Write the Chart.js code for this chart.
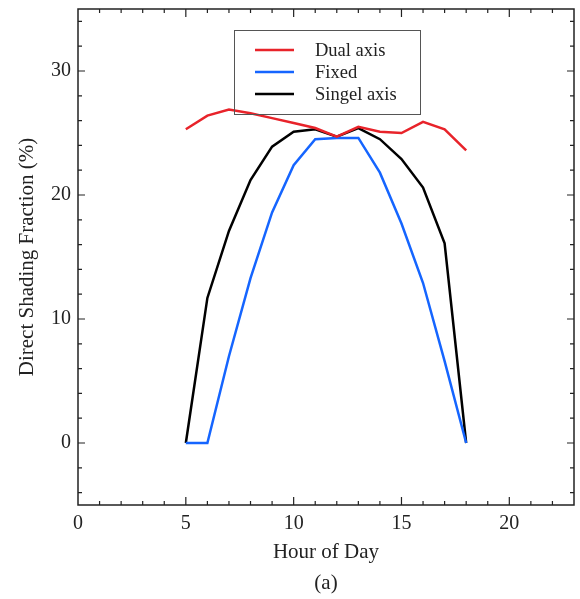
<!DOCTYPE html>
<html>
<head>
<meta charset="utf-8">
<script src="https://cdn.jsdelivr.net/npm/chart.js@4/dist/chart.umd.min.js"></script>
<style>
  body { margin: 0; background: #fff; }
  #wrap { width: 580px; height: 599px; }
</style>
</head>
<body>
<div id="wrap"><canvas id="myChart" width="580" height="599"></canvas></div>
<script>
// data
const hours = [5, 6, 7, 8, 9, 10, 11, 12, 13, 14, 15, 16, 17, 18];
const dualAxis = [25.3, 26.4, 26.9, 26.6, 26.2, 25.8, 25.4, 24.7, 25.5, 25.1, 25.0, 25.9, 25.3, 23.6];
const fixed = [0, 0, 7.0, 13.3, 18.6, 22.4, 24.5, 24.6, 24.6, 21.8, 17.7, 12.9, 6.6, 0];
const singleAxis = [0, 11.7, 17.1, 21.2, 23.9, 25.1, 25.3, 24.7, 25.4, 24.5, 22.9, 20.6, 16.1, 0];

const seriesNames = ['Dual axis', 'Fixed', 'Singel axis'];
const seriesColors = ['#e8232a', '#1565ff', '#000000'];

const xTicks = [0, 5, 10, 15, 20];
const yTicks = [0, 10, 20, 30];

const serif = '"Liberation Serif", "DejaVu Serif", serif';
const textColor = '#222';

function toPoints(values) {
    return hours.map((h, i) => ({ x: h, y: values[i] }));
}

// box around the plot with inward ticks on all sides
const framePlugin = {
    id: 'frame',
    afterDatasetsDraw(chart) {
        const { ctx, chartArea: a, scales: { x, y } } = chart;
        ctx.save();
        ctx.strokeStyle = '#222';
        ctx.lineWidth = 1.5;
        ctx.strokeRect(a.left, a.top, a.right - a.left, a.bottom - a.top);
        ctx.lineWidth = 1.2;
        ctx.beginPath();
        for (let v = 1; v < 23; v++) {
            const px = x.getPixelForValue(v);
            const len = v % 5 === 0 ? 8 : 4;
            ctx.moveTo(px, a.bottom); ctx.lineTo(px, a.bottom - len);
            ctx.moveTo(px, a.top); ctx.lineTo(px, a.top + len);
        }
        for (let v = -4; v < 35; v += 2) {
            const py = y.getPixelForValue(v);
            const len = v % 10 === 0 ? 7 : 4;
            ctx.moveTo(a.left, py); ctx.lineTo(a.left + len, py);
            ctx.moveTo(a.right, py); ctx.lineTo(a.right - len, py);
        }
        ctx.stroke();
        ctx.restore();
    }
};

const legendPlugin = {
    id: 'boxLegend',
    afterDraw(chart) {
        const ctx = chart.ctx;
        ctx.save();
        ctx.strokeStyle = '#555';
        ctx.lineWidth = 1;
        ctx.strokeRect(234.5, 30.5, 186, 84);
        ctx.font = '18.5px ' + serif;
        ctx.textBaseline = 'middle';
        ctx.fillStyle = textColor;
        seriesNames.forEach((name, i) => {
            const yy = 50 + i * 22;
            ctx.strokeStyle = seriesColors[i];
            ctx.lineWidth = 2.5;
            ctx.beginPath();
            ctx.moveTo(255, yy);
            ctx.lineTo(294, yy);
            ctx.stroke();
            ctx.fillText(name, 315, yy + 1);
        });
        // caption
        ctx.font = '21px ' + serif;
        ctx.textAlign = 'center';
        ctx.fillText('(a)', 326, 583);
        ctx.restore();
    }
};

const ctx = document.getElementById('myChart').getContext('2d');
new Chart(ctx, {
    type: 'line',
    data: {
        datasets: [
            { label: seriesNames[0], data: toPoints(dualAxis), borderColor: seriesColors[0] },
            { label: seriesNames[1], data: toPoints(fixed), borderColor: seriesColors[1] },
            { label: seriesNames[2], data: toPoints(singleAxis), borderColor: seriesColors[2] }
        ]
    },
    options: {
        responsive: false,
        animation: false,
        layout: { padding: { left: 11, top: 9, right: 6, bottom: 30 } },
        elements: {
            point: { radius: 0 },
            line: { borderWidth: 2.5, tension: 0, fill: false }
        },
        plugins: {
            legend: { display: false },
            tooltip: { enabled: false }
        },
        scales: {
            x: {
                type: 'linear',
                min: 0,
                max: 23,
                grid: { display: false, drawTicks: false },
                border: { display: false },
                afterBuildTicks: s => { s.ticks = xTicks.map(v => ({ value: v })); },
                afterFit: s => { s.height = 64; s.paddingLeft = 0; s.paddingRight = 0; },
                ticks: { padding: 7, color: textColor, font: { family: serif, size: 20 }, maxRotation: 0 },
                title: { display: true, text: 'Hour of Day', color: textColor, font: { family: serif, size: 21 } }
            },
            y: {
                min: -5,
                max: 35,
                grid: { display: false, drawTicks: false },
                border: { display: false },
                afterBuildTicks: s => { s.ticks = yTicks.map(v => ({ value: v })); },
                afterFit: s => { s.width = 67; s.paddingTop = 0; s.paddingBottom = 0; },
                ticks: { padding: 7, color: textColor, font: { family: serif, size: 20 } },
                title: { display: true, text: 'Direct Shading Fraction (%)', color: textColor, font: { family: serif, size: 21 } }
            }
        }
    },
    plugins: [framePlugin, legendPlugin]
});
</script>
</body>
</html>
